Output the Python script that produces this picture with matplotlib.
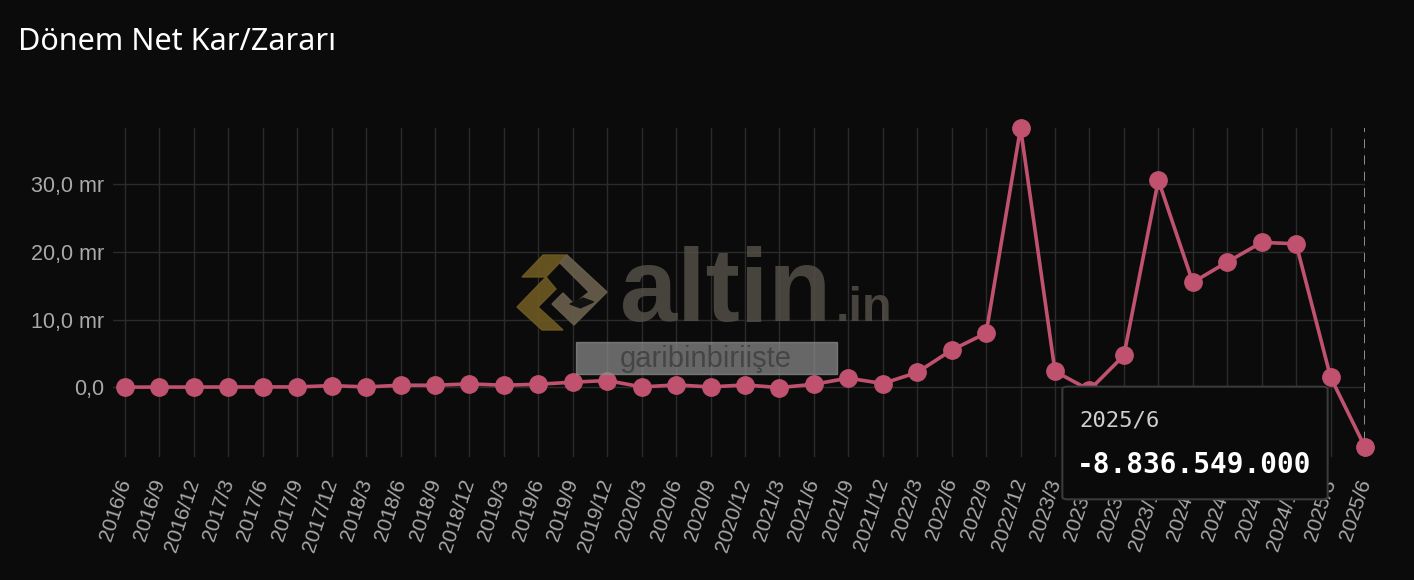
import matplotlib

matplotlib.use("Agg")
import matplotlib.pyplot as plt
from matplotlib.patches import FancyBboxPatch, Polygon, Rectangle
from matplotlib.ticker import FixedLocator

BG, LINE, GRID, TICK = "#0b0b0b", "#c05270", "#2b2b2b", "#a9a9a9"

# quarterly periods 2016/6 .. 2025/6
periods = [f"{y}/{m}" for y in range(2016, 2026) for m in (3, 6, 9, 12)]
periods = periods[periods.index("2016/6"):periods.index("2025/6") + 1]

# net profit / loss, billions TL (mr)
values = [0.02, 0.03, 0.03, 0.04, 0.05, 0.05, 0.25, 0.05, 0.30, 0.30,
          0.50, 0.30, 0.45, 0.75, 1.00, 0.05, 0.35, 0.05, 0.35, -0.05,
          0.45, 1.35, 0.55, 2.20, 5.50, 8.00, 38.3, 2.35, -0.40, 4.70,
          30.6, 15.5, 18.5, 21.4, 21.2, 1.50, -8.8365]
yticks = [0, 10, 20, 30]
ytick_labels = ["0,0", "10,0 mr", "20,0 mr", "30,0 mr"]
tip_period, tip_value = "2025/6", "-8.836.549.000"

W, H = 1414, 580


def fx(x):
    return x / W


def fy(y):
    return 1 - y / H


def poly(pts, color):
    fig.patches.append(Polygon([(fx(a), fy(b)) for a, b in pts], closed=True,
                               transform=fig.transFigure, color=color, alpha=0.9, zorder=4))


fig = plt.figure(figsize=(W / 100, H / 100), dpi=100, facecolor=BG)
ax = fig.add_axes([fx(113), fy(457), fx(1365) - fx(113), fy(128) - fy(457)])
ax.set_facecolor(BG)

x = list(range(len(periods)))
ax.plot(x, values, "-o", color=LINE, lw=2.6, ms=12.5, clip_on=False, zorder=3)
ax.axvline(x[-1], color="#9a9a9a", ls=(0, (5, 4)), lw=1.3, zorder=2)

ax.set_xlim(-0.35, len(periods) - 1)
ax.set_ylim(-10.3, 38.3)
ax.xaxis.set_major_locator(FixedLocator(x))
ax.set_xticklabels(periods, rotation=72, ha="right", va="center",
                   rotation_mode="anchor", fontsize=15, color=TICK,
                   family="Liberation Sans")
ax.set_yticks(yticks)
ax.set_yticklabels(ytick_labels, fontsize=15.5, color=TICK, family="Liberation Sans")
ax.tick_params(axis="both", length=0)
ax.tick_params(axis="x", pad=16)
ax.tick_params(axis="y", pad=6.5)
ax.grid(color=GRID, lw=1)
for s in ax.spines.values():
    s.set_visible(False)

fig.text(fx(18), fy(42), "Dönem Net Kar/Zararı", fontsize=22, color="white",
         family="Noto Sans", weight="medium", va="center", ha="left")

# watermark: altin.in logo
gold, brown = "#6e5a22", "#6a604d"
poly([(522, 277), (543, 255), (567, 255), (546, 277)], gold)
poly([(546, 277), (517, 307), (542, 330), (563, 330), (538, 307), (556, 289)], gold)
poly([(567, 255), (607, 292), (574, 325), (552, 304), (563, 293), (574, 304),
      (589, 292), (560, 263)], brown)
fig.patches.append(Rectangle((fx(570), fy(304)), fx(14), fy(296) - fy(304), angle=-42,
                             transform=fig.transFigure, color="#111111", zorder=5))
fig.text(fx(620), fy(321), "altin", fontsize=74, weight="bold", color="#57524a",
         alpha=0.8, family="Liberation Sans", va="baseline", ha="left", zorder=4)
fig.text(fx(836), fy(321), ".in", fontsize=35, weight="bold", color="#57524a",
         alpha=0.8, family="Liberation Sans", va="baseline", ha="left", zorder=4)
fig.patches.append(Rectangle((fx(576), fy(374)), fx(837) - fx(576), fy(342) - fy(374),
                             transform=fig.transFigure, color="#8c8c8c", alpha=0.72, zorder=5))
fig.text(fx(706), fy(359), "garibinbiriişte", fontsize=21, color="#454545",
         family="Liberation Sans", va="center", ha="center", zorder=6)

# tooltip
fig.patches.append(FancyBboxPatch((fx(1068), fy(497)), fx(1322) - fx(1068), fy(389) - fy(497),
                                  boxstyle="round,pad=0.004", transform=fig.transFigure,
                                  facecolor="#0a0a0a", edgecolor="#3a3a3a", lw=1.5, zorder=7))
fig.text(fx(1079), fy(421), tip_period, fontsize=16, color="#d0d0d0",
         family="DejaVu Sans Mono", va="center", ha="left", zorder=8)
fig.text(fx(1077), fy(465), tip_value, fontsize=20, color="white", weight="bold",
         family="DejaVu Sans Mono", va="center", ha="left", zorder=8)

fig.savefig("out.png", dpi=100, facecolor=BG)
